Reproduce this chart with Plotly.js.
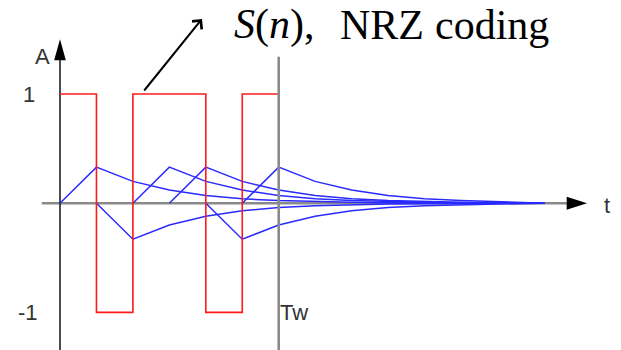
<!DOCTYPE html>
<html>
<head>
<meta charset="utf-8">
<script src="https://cdn.plot.ly/plotly-3.0.1.min.js"></script>
<style>html,body{margin:0;padding:0;background:#fff;}#chart{width:621px;height:350px;}</style>
</head>
<body>
<div id="chart"></div>
<script>
// ---- data ----
var bitTimes = [0, 1, 2, 3, 4, 5, 6];
var bits = [1, -1, 1, 1, -1, 1, 1];
var tGrid = [0, 1, 2, 3, 4, 5, 6, 7, 8, 9, 10, 11, 12, 13.3];
var pulse1 = [0, 0.33, 0.20, 0.12, 0.07, 0.04, 0.024, 0.014, 0.008, 0.005, 0.003, 0.002, 0.001, 0];
var pulse2 = [null, 0, -0.33, -0.20, -0.12, -0.07, -0.04, -0.024, -0.014, -0.008, -0.005, -0.003, -0.002, 0];
var pulse3 = [null, null, 0, 0.33, 0.20, 0.12, 0.07, 0.04, 0.024, 0.014, 0.008, 0.005, 0.003, 0];
var pulse4 = [null, null, null, 0, 0.33, 0.20, 0.12, 0.07, 0.04, 0.024, 0.014, 0.008, 0.005, 0];
var pulse5 = [null, null, null, null, 0, -0.33, -0.20, -0.12, -0.07, -0.04, -0.024, -0.014, -0.008, 0];
var pulse6 = [null, null, null, null, null, 0, 0.33, 0.20, 0.12, 0.07, 0.04, 0.024, 0.014, 0];
var pulses = [pulse1, pulse2, pulse3, pulse4, pulse5, pulse6];
var Tw = 6;
var yTickVals = [1, -1];
var yTickText = ['1', '-1'];

// ---- layout helpers ----
var W = 621, H = 350;
var x0px = 60, xScale = 36.45;   // px of t=0, px per unit
var y0px = 203.2, yScale = 109.2;
var xr = [-x0px / xScale, (W - x0px) / xScale];
var yr = [-(H - y0px) / yScale, y0px / yScale];
function px(x) { return x / W; }
function py(y) { return 1 - y / H; }

var traces = [];
pulses.forEach(function (p) {
  traces.push({x: tGrid, y: p, type: 'scatter', mode: 'lines', connectgaps: false,
    line: {color: '#2a2aff', width: 1.5}, hoverinfo: 'skip', showlegend: false});
});
traces.push({x: bitTimes, y: bits, type: 'scatter', mode: 'lines',
  line: {color: '#ff1a1a', width: 1.6, shape: 'hv'}, hoverinfo: 'skip', showlegend: false});

var shapes = [
  {type: 'line', xref: 'x', yref: 'y', x0: -0.5, x1: 13.95, y0: 0, y1: 0, line: {color: '#8a8a8a', width: 2.6}, layer: 'below'},
  {type: 'path', xref: 'x', yref: 'y', path: 'M 13.9 0.06 L 14.46 0 L 13.9 -0.06 Z', fillcolor: '#000', line: {width: 0}},
  {type: 'line', xref: 'x', yref: 'y', x0: 0, x1: 0, y0: yr[0], y1: 1.33, line: {color: '#111', width: 1.5}, layer: 'below'},
  {type: 'path', xref: 'x', yref: 'y', path: 'M -0.16 1.31 L 0 1.501 L 0.16 1.31 Z', fillcolor: '#000', line: {width: 0}},
  {type: 'line', xref: 'x', yref: 'y', x0: Tw, x1: Tw, y0: yr[0], y1: 1.342, line: {color: '#8a8a8a', width: 2.6}, layer: 'above'}
];

var f = {family: 'Liberation Sans, Arial, sans-serif', size: 22, color: '#333'};
var tf = {family: 'Liberation Serif, Times New Roman, serif', size: 42, color: '#000'};
var annotations = [
  {xref: 'paper', yref: 'paper', x: px(42), y: py(56), text: 'A', showarrow: false, font: f, xanchor: 'center', yanchor: 'middle'},
  {xref: 'paper', yref: 'y', x: px(37), y: yTickVals[0], text: yTickText[0], showarrow: false, font: f, xanchor: 'right', yanchor: 'middle'},
  {xref: 'paper', yref: 'y', x: px(40), y: yTickVals[1], text: yTickText[1], showarrow: false, font: f, xanchor: 'right', yanchor: 'middle'},
  {xref: 'x', yref: 'y', x: Tw, y: -1, text: 'Tw', showarrow: false, font: f, xanchor: 'left', yanchor: 'middle', xshift: -1},
  {xref: 'paper', yref: 'y', x: px(607), y: 0, text: 't', showarrow: false, font: f, xanchor: 'center', yanchor: 'middle', yshift: -2},
  {xref: 'paper', yref: 'paper', x: px(232), y: py(40), text: '<i>S</i>(<i>n</i>),', showarrow: false,
    font: tf, xanchor: 'left', yanchor: 'bottom', yshift: -10},
  {xref: 'paper', yref: 'paper', x: px(338), y: py(40), text: 'NRZ', showarrow: false,
    font: tf, xanchor: 'left', yanchor: 'bottom', yshift: -10},
  {xref: 'paper', yref: 'paper', x: px(433), y: py(40), text: 'coding', showarrow: false,
    font: tf, xanchor: 'left', yanchor: 'bottom', yshift: -10},
  {xref: 'paper', yref: 'paper', x: px(202), y: py(19), ax: -59, ay: 73, text: '', showarrow: true,
    arrowhead: 4, arrowsize: 1.2, arrowwidth: 2, arrowcolor: '#000', standoff: 0}
];

var layout = {
  width: W, height: H, margin: {l: 0, r: 0, t: 0, b: 0},
  paper_bgcolor: '#fff', plot_bgcolor: '#fff',
  xaxis: {range: xr, visible: false, fixedrange: true},
  yaxis: {range: yr, visible: false, fixedrange: true},
  shapes: shapes, annotations: annotations, showlegend: false
};
Plotly.newPlot('chart', traces, layout, {staticPlot: true, displayModeBar: false});
</script>
</body>
</html>
